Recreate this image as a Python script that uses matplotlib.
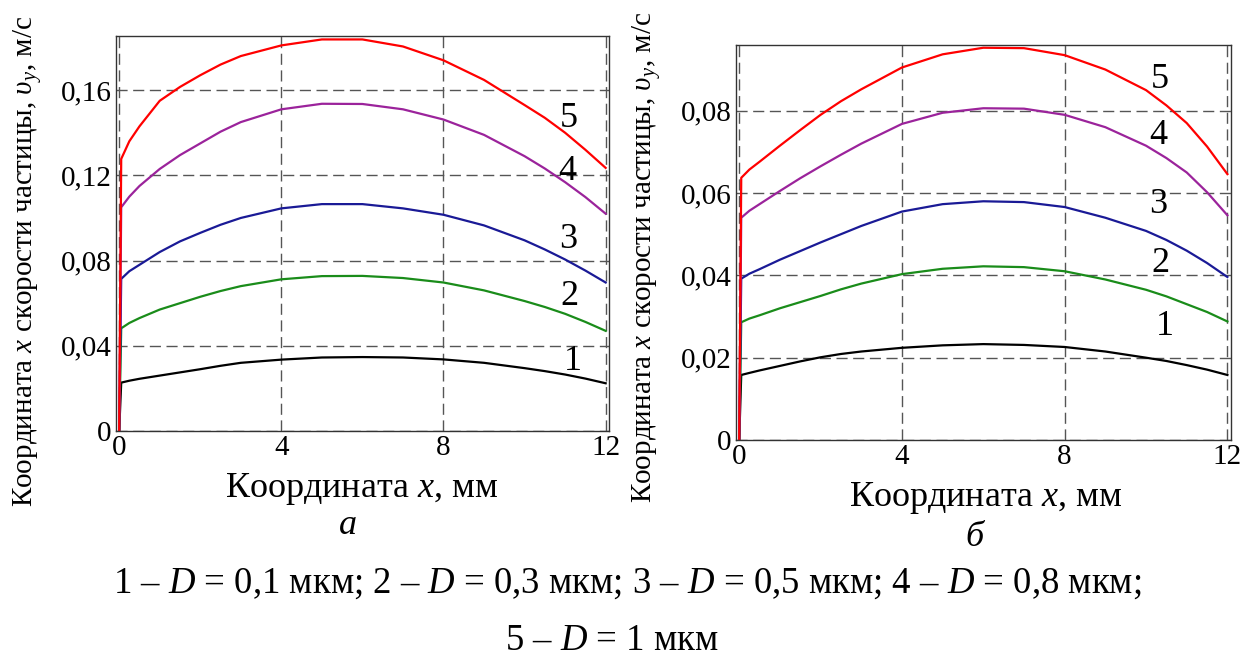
import numpy as np
import matplotlib
matplotlib.use("Agg")
import matplotlib.pyplot as plt

plt.rcParams['font.family'] = ['Liberation Serif', 'DejaVu Serif']
plt.rcParams['mathtext.fontset'] = 'custom'
plt.rcParams['mathtext.rm'] = 'Liberation Serif'
plt.rcParams['mathtext.it'] = 'Liberation Serif:italic'

# x coordinate, mm (shared by all curves)
x_mm = [0, 0.05, 0.25, 0.5, 1, 1.5, 2, 2.5, 3, 4, 5, 6, 7, 8, 9, 10, 10.5, 11, 11.5, 12]

# panel a: particle velocity v_y, m/s
a_v1 = [0, 0.0227, 0.0236, 0.0245, 0.0260, 0.0275, 0.0290, 0.0306, 0.0320, 0.0335, 0.0345, 0.0347,
        0.0345, 0.0336, 0.0320, 0.0295, 0.0281, 0.0265, 0.0246, 0.0224]
a_v2 = [0, 0.0482, 0.0507, 0.0530, 0.0570, 0.0600, 0.0630, 0.0657, 0.0680, 0.0712, 0.0727, 0.0728,
        0.0718, 0.0697, 0.0660, 0.0610, 0.0582, 0.0550, 0.0512, 0.0470]
a_v3 = [0, 0.0714, 0.0750, 0.0780, 0.0840, 0.0890, 0.0930, 0.0968, 0.1000, 0.1045, 0.1065, 0.1065,
        0.1045, 0.1015, 0.0965, 0.0895, 0.0852, 0.0805, 0.0753, 0.0697]
a_v4 = [0, 0.1050, 0.1100, 0.1150, 0.1230, 0.1295, 0.1350, 0.1405, 0.1450, 0.1510, 0.1536, 0.1535,
        0.1510, 0.1462, 0.1390, 0.1290, 0.1232, 0.1168, 0.1098, 0.1020]
a_v5 = [0, 0.1277, 0.1360, 0.1430, 0.1550, 0.1615, 0.1670, 0.1720, 0.1760, 0.1810, 0.1838, 0.1838,
        0.1805, 0.1740, 0.1648, 0.1530, 0.1470, 0.1400, 0.1320, 0.1235]

# panel б
b_v1 = [0, 0.0158, 0.0163, 0.0169, 0.0180, 0.0191, 0.0201, 0.0209, 0.0215, 0.0224, 0.0230, 0.0233,
        0.0231, 0.0226, 0.0215, 0.0200, 0.0192, 0.0182, 0.0171, 0.0158]
b_v2 = [0, 0.0286, 0.0295, 0.0303, 0.0320, 0.0335, 0.0350, 0.0366, 0.0380, 0.0403, 0.0416, 0.0422,
        0.0420, 0.0410, 0.0390, 0.0365, 0.0349, 0.0330, 0.0311, 0.0288]
b_v3 = [0, 0.0392, 0.0404, 0.0415, 0.0438, 0.0459, 0.0480, 0.0500, 0.0520, 0.0555, 0.0573, 0.0580,
        0.0578, 0.0566, 0.0540, 0.0508, 0.0486, 0.0460, 0.0430, 0.0396]
b_v4 = [0, 0.0540, 0.0557, 0.0573, 0.0605, 0.0636, 0.0665, 0.0693, 0.0720, 0.0768, 0.0795, 0.0806,
        0.0805, 0.0790, 0.0760, 0.0715, 0.0685, 0.0650, 0.0602, 0.0546]
b_v5 = [0, 0.0637, 0.0657, 0.0676, 0.0715, 0.0753, 0.0790, 0.0823, 0.0852, 0.0905, 0.0937, 0.0953,
        0.0952, 0.0935, 0.0900, 0.0850, 0.0813, 0.0770, 0.0713, 0.0646]

curve_names = ['1', '2', '3', '4', '5']
colors = ['black', '#1a8c1a', '#1a1a96', '#9b239b', '#ff0000']

a_ticks = [0, 0.04, 0.08, 0.12, 0.16]
a_ticklabels = ['0', '0,04', '0,08', '0,12', '0,16']
b_ticks = [0, 0.02, 0.04, 0.06, 0.08]
b_ticklabels = ['0', '0,02', '0,04', '0,06', '0,08']
x_ticks = [0, 4, 8, 12]

fig = plt.figure(figsize=(12.48, 6.59), dpi=100)
ax_a = fig.add_axes([0.0929, 0.346, 0.395, 0.599])
ax_b = fig.add_axes([0.5897, 0.3323, 0.3964, 0.599])

panels = [
    (ax_a, [a_v1, a_v2, a_v3, a_v4, a_v5], a_ticks, a_ticklabels, 0.1853,
     [(11.2, 0.0328), (11.1, 0.0633), (11.07, 0.0901), (11.05, 0.1220), (11.1, 0.1465)]),
    (ax_b, [b_v1, b_v2, b_v3, b_v4, b_v5], b_ticks, b_ticklabels, 0.0959,
     [(10.46, 0.0275), (10.36, 0.0428), (10.31, 0.0571), (10.29, 0.0741), (10.35, 0.0875)]),
]

for ax, series, yt, ytl, ytop, lab_pos in panels:
    for v, c in zip(series, colors):
        ax.plot(x_mm, v, color=c, lw=1.6, solid_joinstyle='round')
    for name, (lx, ly) in zip(curve_names, lab_pos):
        ax.text(lx, ly, name, fontsize=26, ha='center', va='center')
    ax.set_xlim(-0.08, 12.08)
    ax.set_ylim(0, ytop)
    ax.set_xticks(x_ticks)
    ax.set_xticklabels([str(t) for t in x_ticks])
    ax.set_yticks(yt)
    ax.set_yticklabels(ytl)
    ax.tick_params(length=0, labelsize=21, pad=3)
    ax.grid(True, color='#555555', linestyle=(0, (8, 4)), lw=1.0)
    for s in ax.spines.values():
        s.set_color('#333333')
        s.set_linewidth(1.0)

ylab = r'Координата $x$ скорости частицы, $\upsilon_y$, м/с'
fig.text(0.022, 0.604, ylab, rotation=90, ha='center', va='center', fontsize=21)
fig.text(0.518, 0.61, ylab, rotation=90, ha='center', va='center', fontsize=21)

fig.text(0.29, 0.258, r'Координата $x$, мм', ha='center', va='center', fontsize=26)
fig.text(0.279, 0.202, 'а', ha='center', va='center', fontsize=26, style='italic')
fig.text(0.79, 0.245, r'Координата $x$, мм', ha='center', va='center', fontsize=26)
fig.text(0.781, 0.185, 'б', ha='center', va='center', fontsize=26, style='italic')

fig.text(0.503, 0.115, r'1 – $D$ = 0,1 мкм; 2 – $D$ = 0,3 мкм; 3 – $D$ = 0,5 мкм; 4 – $D$ = 0,8 мкм;',
         ha='center', va='center', fontsize=26.5)
fig.text(0.49, 0.028, r'5 – $D$ = 1 мкм', ha='center', va='center', fontsize=26.5)

fig.savefig('out.png', dpi=100, facecolor='white')
